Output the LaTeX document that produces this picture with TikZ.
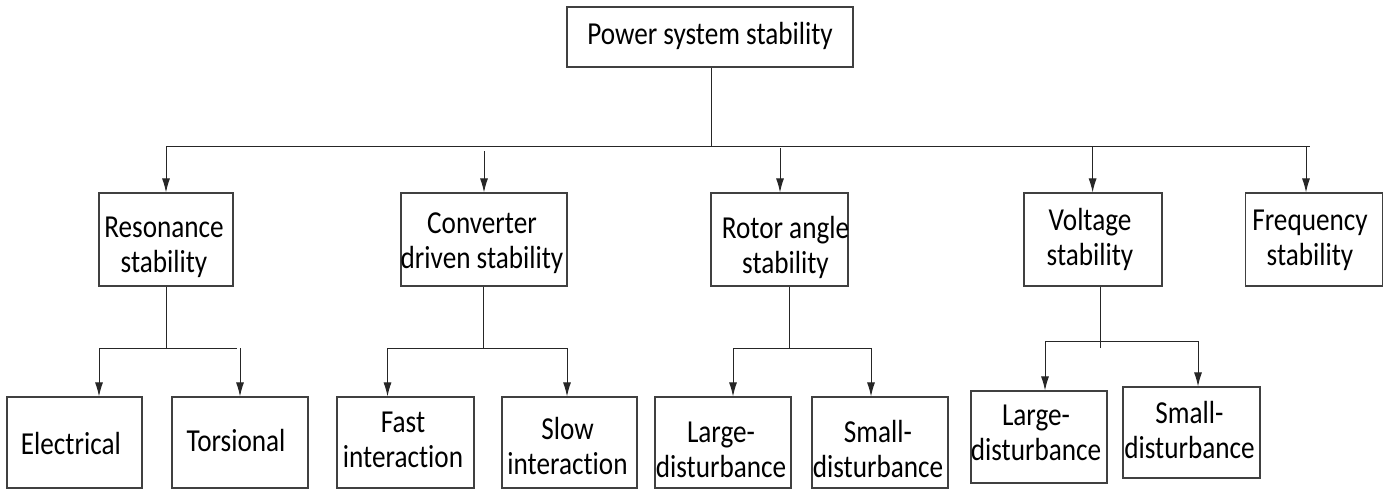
\documentclass[tikz,border=0pt]{standalone}
\usepackage{fontspec}
\setmainfont{Carlito}[FakeStretch=0.85, Ligatures=NoCommon]
\usetikzlibrary{arrows.meta}
\newcommand\tx[3]{\makebox[0pt]{\kern#1\raisebox{#2}[0pt][0pt]{\begin{tabular}{@{}c@{}}#3\end{tabular}}\kern-#1}}
\begin{document}
\begin{tikzpicture}[x=0.5pt,y=-0.5pt,
  box/.style={draw=black!75, line width=0.55pt, inner sep=0pt,
    font=\fontsize{16}{17.5}\selectfont},
  lin/.style={draw=black!85, line width=0.5pt},
  arr/.style={lin, -{Latex[length=7pt,width=4pt]}}]
\useasboundingbox (0,0) rectangle (1384,489);
% top
\node[box, minimum width=143pt, minimum height=30pt] (top) at (710,37) {\tx{0pt}{-4.75pt}{Power system stability}};
% level 2
\node[box, minimum width=67pt, minimum height=46.5pt] (res) at (166,239.5) {\tx{-1pt}{-8.4pt}{Resonance\\stability}};
\node[box, minimum width=83pt, minimum height=46.5pt] (conv) at (484,239.5) {\tx{-1pt}{-6.5pt}{Converter\\driven stability}};
\node[box, minimum width=68.5pt, minimum height=46.5pt] (rot) at (779.5,239.5) {\tx{3pt}{-9pt}{Rotor angle\\stability}};
\node[box, minimum width=69pt, minimum height=46.5pt] (volt) at (1093,239.5) {\tx{-1.5pt}{-5.25pt}{Voltage\\stability}};
\node[box, minimum width=68.5pt, minimum height=46.5pt] (freq) at (1314,239.5) {\tx{-2pt}{-5.25pt}{Frequency\\stability}};
% level 3
\node[box, minimum width=67.5pt, minimum height=45.5pt] (elec) at (74.5,442.5) {\tx{-1.8pt}{-7pt}{Electrical}};
\node[box, minimum width=68pt, minimum height=45.5pt] (tors) at (240,442.5) {\tx{-2pt}{-5.5pt}{Torsional}};
\node[box, minimum width=68.5pt, minimum height=45.5pt] (fast) at (405.5,442.5) {\tx{-1.25pt}{-4.5pt}{Fast\\interaction}};
\node[box, minimum width=67.5pt, minimum height=45.5pt] (slow) at (569.5,442.5) {\tx{-1pt}{-8pt}{Slow\\interaction}};
\node[box, minimum width=68pt, minimum height=45.5pt] (larA) at (723,442.5) {\tx{-1pt}{-9.5pt}{Large-\\disturbance}};
\node[box, minimum width=68pt, minimum height=45.5pt] (smaA) at (880,442.5) {\tx{-1pt}{-9.5pt}{Small-\\disturbance}};
\node[box, minimum width=68pt, minimum height=46pt] (larB) at (1039,437) {\tx{-1.5pt}{-4pt}{Large-\\disturbance}};
\node[box, minimum width=68.5pt, minimum height=45.5pt] (smaB) at (1191.5,432.5) {\tx{-1pt}{-5pt}{Small-\\disturbance}};
% coordinates
\coordinate (hl) at (166,146);
\coordinate (hr) at (1310,146);
\coordinate (tc) at (711.4,146);
\coordinate (ca) at (484,151);
\coordinate (ra) at (780,148);
\coordinate (va) at (1092.6,146);
\coordinate (fa) at (1306,146);
% top connectors
\draw[lin] (tc |- top.south) -- (tc);
\draw[lin] (hl) -- (hr);
\draw[arr] (hl) -- (hl |- res.north);
\draw[arr] (ca) -- (ca |- conv.north);
\draw[arr] (ra) -- (ra |- rot.north);
\draw[arr] (va) -- (va |- volt.north);
\draw[arr] (fa) -- (fa |- freq.north);
% resonance
\coordinate (r1) at (99,348);
\coordinate (r2) at (240,348);
\coordinate (rv) at (166.5,348);
\draw[lin] (rv |- res.south) -- (rv);
\draw[lin] (r1) -- (237,348);
\draw[arr] (r1) -- (r1 |- elec.north);
\draw[arr] (r2) -- (r2 |- tors.north);
% converter
\coordinate (c1) at (387.5,348);
\coordinate (c2) at (567,348);
\coordinate (cv) at (483.5,348);
\draw[lin] (cv |- conv.south) -- (cv);
\draw[lin] (c1) -- (c2);
\draw[arr] (c1) -- (c1 |- fast.north);
\draw[arr] (c2) -- (c2 |- slow.north);
% rotor
\coordinate (o1) at (733,348);
\coordinate (o2) at (871,348);
\coordinate (ov) at (789,348);
\draw[lin] (ov |- rot.south) -- (ov);
\draw[lin] (o1) -- (o2);
\draw[arr] (o1) -- (o1 |- larA.north);
\draw[arr] (o2) -- (o2 |- smaA.north);
% voltage
\coordinate (v1) at (1045,341);
\coordinate (v2) at (1198,341);
\coordinate (vv) at (1100.6,348);
\draw[lin] (vv |- volt.south) -- (vv);
\draw[lin] (v1) -- (v2);
\draw[arr] (v1) -- (v1 |- larB.north);
\draw[arr] (v2) -- (v2 |- smaB.north);
\end{tikzpicture}
\end{document}
